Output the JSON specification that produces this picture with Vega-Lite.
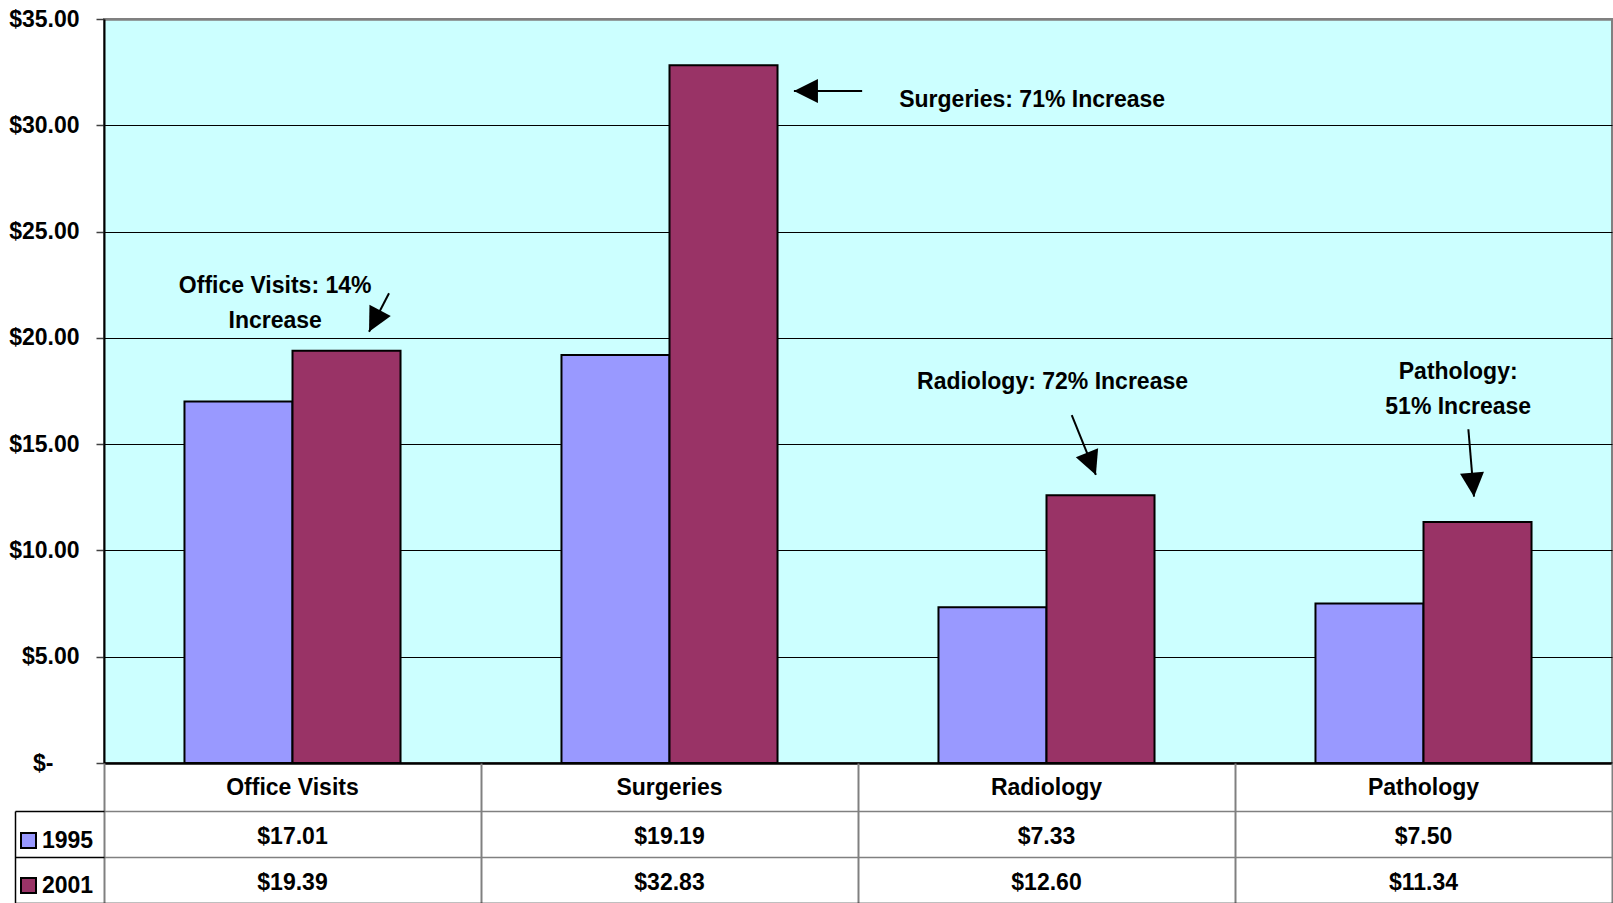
{
  "$schema": "https://vega.github.io/schema/vega-lite/v6.json",
  "background": "white",
  "padding": {"left": 7, "top": 7, "right": 0, "bottom": 0},
  "bounds": "flush",
  "spacing": 0,
  "config": {
    "font": "Liberation Sans",
    "text": {"font": "Liberation Sans", "fontSize": 23, "fontWeight": "bold", "color": "black"}
  },
  "datasets": {
    "costs": [
      {"category": "Office Visits", "series": "1995", "value": 17.01},
      {"category": "Office Visits", "series": "2001", "value": 19.39},
      {"category": "Surgeries", "series": "1995", "value": 19.19},
      {"category": "Surgeries", "series": "2001", "value": 32.83},
      {"category": "Radiology", "series": "1995", "value": 7.33},
      {"category": "Radiology", "series": "2001", "value": 12.60},
      {"category": "Pathology", "series": "1995", "value": 7.50},
      {"category": "Pathology", "series": "2001", "value": 11.34}
    ],
    "notes": [
      {"note": "Office Visits: 14%\nIncrease", "x": 0.454, "y": 22.11},
      {"note": "Surgeries: 71% Increase", "x": 2.462, "y": 30.86},
      {"note": "Radiology: 72% Increase", "x": 2.516, "y": 17.59},
      {"note": "Pathology:\n51% Increase", "x": 3.592, "y": 18.06}
    ],
    "arrows": [
      {"target": "Office Visits", "x": 0.756, "y": 22.10, "x2": 0.703, "y2": 20.29},
      {"target": "Surgeries", "x": 2.011, "y": 31.61, "x2": 1.830, "y2": 31.61},
      {"target": "Radiology", "x": 2.567, "y": 16.37, "x2": 2.631, "y2": 13.55},
      {"target": "Pathology", "x": 3.619, "y": 15.70, "x2": 3.634, "y2": 12.53}
    ]
  },
  "vconcat": [
    {
      "width": 1508,
      "height": 744,
      "view": {"fill": "#CCFFFF", "stroke": "#808080", "strokeWidth": 2},
      "layer": [
        {
          "data": {"name": "costs"},
          "mark": {"type": "bar", "stroke": "black", "strokeWidth": 2},
          "encoding": {
            "x": {
              "field": "category", "type": "nominal",
              "sort": ["Office Visits", "Surgeries", "Radiology", "Pathology"],
              "scale": {"paddingInner": 0, "paddingOuter": 0},
              "axis": null
            },
            "xOffset": {
              "field": "series", "type": "nominal", "sort": ["1995", "2001"],
              "scale": {"paddingInner": 0, "paddingOuter": 0.745}
            },
            "y": {
              "field": "value", "type": "quantitative",
              "scale": {"domain": [0, 35], "nice": false},
              "axis": {
                "title": null,
                "values": [0, 5, 10, 15, 20, 25, 30, 35],
                "labelExpr": "datum.value === 0 ? '$-' : '$' + format(datum.value, '.2f')",
                "labelFont": "Liberation Sans",
                "labelFontSize": 23,
                "labelFontWeight": "bold",
                "labelColor": "black",
                "labelPadding": {"condition": {"test": "datum.value === 0", "value": 43}, "value": 17},
                "tickSize": 8,
                "tickColor": "#404040",
                "tickWidth": 1.5,
                "domainColor": "black",
                "domainWidth": 2,
                "gridColor": {"condition": {"test": "datum.value === 35", "value": "#808080"}, "value": "black"},
                "gridWidth": {"condition": {"test": "datum.value === 0 || datum.value === 35", "value": 2.5}, "value": 1}
              }
            },
            "color": {
              "field": "series", "type": "nominal",
              "scale": {"domain": ["1995", "2001"], "range": ["#9999FF", "#993366"]},
              "legend": {
                "orient": "none",
                "legendX": -87,
                "legendY": 810,
                "title": null,
                "direction": "vertical",
                "symbolType": "square",
                "symbolSize": 225,
                "symbolStrokeColor": "black",
                "symbolStrokeWidth": 2,
                "labelFont": "Liberation Sans",
                "labelFontSize": 23,
                "labelFontWeight": "bold",
                "labelColor": "black",
                "labelOffset": 2,
                "rowPadding": 21,
                "padding": 0
              }
            }
          }
        },
        {
          "layer": [
            {
              "data": {"name": "notes"},
              "mark": {"type": "text", "align": "center", "baseline": "alphabetic", "lineBreak": "\n", "lineHeight": 34.5},
              "encoding": {
                "x": {"field": "x", "type": "quantitative", "scale": {"domain": [0, 4], "nice": false, "zero": false}, "axis": null},
                "y": {"field": "y", "type": "quantitative", "title": null},
                "text": {"field": "note"}
              }
            },
            {
              "data": {"name": "arrows"},
              "mark": {"type": "rule", "color": "black", "strokeWidth": 2},
              "encoding": {
                "x": {"field": "x", "type": "quantitative", "axis": null},
                "y": {"field": "y", "type": "quantitative", "title": null},
                "x2": {"field": "x2"},
                "y2": {"field": "y2"}
              }
            },
            {
              "data": {"name": "arrows"},
              "transform": [{"filter": "datum.target === 'Office Visits'"}],
              "mark": {"type": "point", "shape": "M0,0L1.0,2L-1.0,2Z", "filled": true, "color": "black", "opacity": 1, "size": 576, "angle": 207.5},
              "encoding": {
                "x": {"field": "x2", "type": "quantitative", "axis": null},
                "y": {"field": "y2", "type": "quantitative", "title": null}
              }
            },
            {
              "data": {"name": "arrows"},
              "transform": [{"filter": "datum.target === 'Surgeries'"}],
              "mark": {"type": "point", "shape": "M0,0L1.0,2L-1.0,2Z", "filled": true, "color": "black", "opacity": 1, "size": 576, "angle": 270},
              "encoding": {
                "x": {"field": "x2", "type": "quantitative", "axis": null},
                "y": {"field": "y2", "type": "quantitative", "title": null}
              }
            },
            {
              "data": {"name": "arrows"},
              "transform": [{"filter": "datum.target === 'Radiology'"}],
              "mark": {"type": "point", "shape": "M0,0L1.0,2L-1.0,2Z", "filled": true, "color": "black", "opacity": 1, "size": 576, "angle": 158.2},
              "encoding": {
                "x": {"field": "x2", "type": "quantitative", "axis": null},
                "y": {"field": "y2", "type": "quantitative", "title": null}
              }
            },
            {
              "data": {"name": "arrows"},
              "transform": [{"filter": "datum.target === 'Pathology'"}],
              "mark": {"type": "point", "shape": "M0,0L1.0,2L-1.0,2Z", "filled": true, "color": "black", "opacity": 1, "size": 576, "angle": 175.2},
              "encoding": {
                "x": {"field": "x2", "type": "quantitative", "axis": null},
                "y": {"field": "y2", "type": "quantitative", "title": null}
              }
            }
          ]
        }
      ],
      "resolve": {"scale": {"x": "independent"}}
    },
    {
      "width": 1508,
      "height": 48,
      "view": {"stroke": null},
      "data": {"name": "costs"},
      "transform": [{"filter": "datum.series === '1995'"}],
      "mark": {"type": "text", "dy": 1},
      "encoding": {
        "x": {
          "field": "category", "type": "nominal",
          "sort": ["Office Visits", "Surgeries", "Radiology", "Pathology"],
          "scale": {"paddingInner": 0, "paddingOuter": 0},
          "axis": {"title": null, "labels": false, "ticks": false, "domain": false, "grid": true, "tickBand": "extent", "gridColor": "#808080", "gridWidth": 2}
        },
        "text": {"field": "category"}
      }
    },
    {
      "width": 1508,
      "height": 92,
      "view": {"stroke": null},
      "data": {"name": "costs"},
      "mark": {"type": "text", "dy": 3},
      "encoding": {
        "x": {
          "field": "category", "type": "nominal",
          "sort": ["Office Visits", "Surgeries", "Radiology", "Pathology"],
          "scale": {"paddingInner": 0, "paddingOuter": 0},
          "axis": {"title": null, "labels": false, "ticks": false, "domain": false, "grid": true, "tickBand": "extent", "gridColor": "#808080", "gridWidth": 2}
        },
        "y": {
          "field": "series", "type": "nominal", "sort": ["1995", "2001"],
          "scale": {"paddingInner": 0, "paddingOuter": 0},
          "axis": {
            "title": null, "labels": false, "offset": 89, "tickSize": -89,
            "tickColor": "black", "tickWidth": 1.5,
            "domainColor": "black", "domainWidth": 1.5,
            "grid": true, "tickBand": "extent",
            "gridColor": {"condition": {"test": "datum.value === '2001'", "value": "black"}, "value": "#808080"},
            "gridWidth": 1.5
          }
        },
        "text": {"field": "value", "type": "quantitative", "format": "$.2f"}
      }
    }
  ],
  "resolve": {"legend": {"color": "independent"}}
}
